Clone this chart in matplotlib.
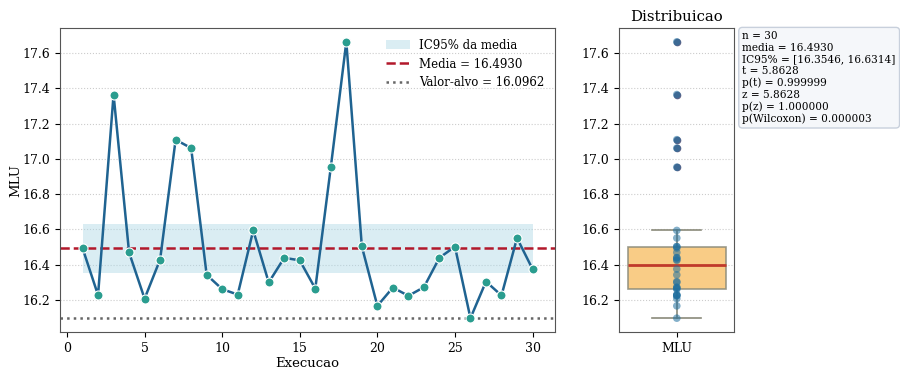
import numpy as np
import matplotlib
matplotlib.use("Agg")
import matplotlib.pyplot as plt
from matplotlib.patches import Patch
from matplotlib.lines import Line2D

plt.rcParams['font.family'] = ['DejaVu Serif']

runs = list(range(1, 31))
mlu = [16.494, 16.227, 17.365, 16.469, 16.207, 16.429, 17.109, 17.061, 16.342, 16.261,
       16.230, 16.594, 16.299, 16.439, 16.424, 16.264, 16.953, 17.664, 16.503, 16.166,
       16.270, 16.223, 16.272, 16.439, 16.502, 16.0962, 16.304, 16.225, 16.551, 16.375]
media = 16.4930
alvo = 16.0962
ic_low, ic_high = 16.3546, 16.6314
stats_lines = [
    "n = 30",
    "media = 16.4930",
    "IC95% = [16.3546, 16.6314]",
    "t = 5.8628",
    "p(t) = 0.999999",
    "z = 5.8628",
    "p(z) = 1.000000",
    "p(Wilcoxon) = 0.000003",
]

fig = plt.figure(figsize=(9, 3.69), dpi=100)
ax = fig.add_axes([0.0667, 0.1003, 0.55, 0.8237])
ax2 = fig.add_axes([0.688, 0.1003, 0.128, 0.8237], sharey=ax)

# serie temporal
ax.fill_between(runs, ic_low, ic_high, color='#add8e6', alpha=0.45, linewidth=0, zorder=1)
ax.axhline(media, color='#b2182b', linestyle='--', linewidth=1.8, zorder=2)
ax.axhline(alvo, color='#666666', linestyle=':', linewidth=1.8, zorder=2)
ax.plot(runs, mlu, color='#1f6391', linewidth=1.8, zorder=3)
ax.plot(runs, mlu, linestyle='none', marker='o', markersize=6.5,
        markerfacecolor='#2a9d8f', markeredgecolor='white', markeredgewidth=0.8, zorder=4)
ax.set_xlabel('Execucao', fontsize=9.5, labelpad=1.5)
ax.set_ylabel('MLU', fontsize=9.5, labelpad=0)
ax.grid(axis='y', linestyle=':', color='#cccccc', linewidth=0.8)
ax.set_axisbelow(True)
ax.set_xticks([0, 5, 10, 15, 20, 25, 30])
ax.tick_params(labelsize=9)

handles = [
    Patch(facecolor='#add8e6', alpha=0.45, edgecolor='none', label='IC95% da media'),
    Line2D([], [], color='#b2182b', linestyle='--', linewidth=1.8, label='Media = %.4f' % media),
    Line2D([], [], color='#666666', linestyle=':', linewidth=1.8, label='Valor-alvo = %.4f' % alvo),
]
ax.legend(handles=handles, loc='upper right', frameon=False, fontsize=8.5)

# distribuicao
ax2.boxplot(mlu, positions=[0], widths=0.85, patch_artist=True,
            boxprops=dict(facecolor='#f8c471', edgecolor='#8a8a7a', alpha=0.85, linewidth=1.2),
            whiskerprops=dict(color='#8a8a7a', linewidth=1.2),
            capprops=dict(color='#8a8a7a', linewidth=1.2),
            medianprops=dict(color='#c0392b', linewidth=2),
            flierprops=dict(marker='o', markerfacecolor='#3b3f6a', markeredgecolor='none',
                            markersize=5.5, alpha=0.8))
ax2.scatter(np.zeros(len(mlu)), mlu, s=30, color='#1f6f9f', alpha=0.55,
            edgecolors='none', zorder=5)
ax2.set_xlim(-0.5, 0.5)
ax2.set_xticks([0])
ax2.set_xticklabels(['MLU'])
ax2.set_title('Distribuicao', fontsize=10.7, pad=5)
ax2.grid(axis='y', linestyle=':', color='#cccccc', linewidth=0.8)
ax2.set_axisbelow(True)
ax2.tick_params(labelsize=9)
ax2.tick_params(axis='y', labelleft=True)

ax2.text(1.07, 0.99, "\n".join(stats_lines), transform=ax2.transAxes, va='top', ha='left',
         fontsize=7.6, linespacing=1.2,
         bbox=dict(boxstyle='round,pad=0.35', facecolor='#f5f7fa', edgecolor='#c8d0dc'))

for a in (ax, ax2):
    for s in a.spines.values():
        s.set_color('#555555')

fig.savefig('out.png', dpi=100)
